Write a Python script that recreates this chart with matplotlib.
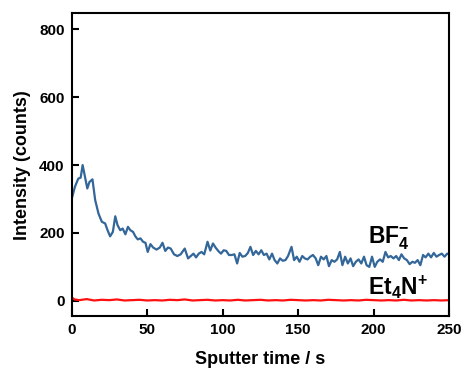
import matplotlib
matplotlib.use("Agg")
from matplotlib import pyplot as plt

plt.rcParams['font.family'] = ['Liberation Sans', 'DejaVu Sans']
plt.rcParams['font.weight'] = 'bold'
plt.rcParams['mathtext.fontset'] = 'custom'
plt.rcParams['mathtext.rm'] = 'Liberation Sans:bold'
plt.rcParams['mathtext.bf'] = 'Liberation Sans:bold'
plt.rcParams['mathtext.it'] = 'Liberation Sans:bold'
plt.rcParams['mathtext.default'] = 'bf'

# BF4- signal
bf4_time = [0.4, 2.2, 4.4, 6.0, 7.3, 8.9, 10.4, 11.8, 13.8, 15.6, 17.8, 20.0, 22.2, 23.8,
            25.5, 27.3, 28.9, 30.4, 32.2, 33.8, 35.6, 37.3, 38.9, 40.7, 42.2, 43.8, 45.6,
            47.3, 48.9, 50.4, 52.2, 54.0, 56.2, 58.4, 60.2, 62.0, 63.8, 65.6, 67.8, 70.0,
            72.2, 74.9, 77.1, 78.9, 80.7, 82.4, 84.2, 86.0, 87.8, 90.0, 91.8, 93.6, 95.3,
            97.1, 98.9, 100.7, 102.4, 104.2, 106.0, 107.8, 109.6, 111.3, 113.1, 114.9,
            116.7, 118.4, 120.2, 122.0, 123.8, 125.6, 127.3, 129.1, 130.9, 132.7, 134.4,
            136.2, 138.0, 139.8, 141.6, 143.3, 145.6, 147.3, 149.1, 150.9, 152.7, 154.4,
            156.2, 158.0, 159.8, 161.6, 163.3, 165.1, 166.9, 168.7, 170.4, 172.2, 174.0,
            175.8, 177.6, 179.3, 181.1, 182.9, 184.7, 186.4, 188.2, 190.0, 191.8, 193.6,
            195.3, 197.1, 198.9, 200.7, 202.4, 204.2, 206.0, 207.8, 209.6, 211.3, 213.1,
            214.9, 216.7, 218.4, 220.2, 222.0, 223.8, 225.6, 227.3, 229.1, 230.9, 232.7,
            234.4, 236.2, 238.0, 239.8, 241.6, 243.3, 245.1, 246.9, 248.7, 250.0]
bf4_counts = [306, 336, 360, 363, 400, 365, 331, 350, 358, 297, 257, 233, 228, 208,
              190, 203, 249, 223, 208, 213, 196, 218, 208, 203, 190, 181, 184,
              174, 171, 144, 167, 157, 151, 157, 171, 147, 157, 154, 137, 132,
              137, 154, 125, 132, 139, 128, 139, 144, 137, 174, 148, 169, 157,
              147, 139, 149, 147, 135, 135, 137, 110, 141, 130, 132,
              141, 159, 135, 147, 137, 149, 135, 139, 122, 139, 120,
              110, 125, 118, 120, 132, 159, 120, 130, 115, 132, 125,
              122, 130, 135, 125, 105, 130, 122, 132, 102, 120, 115,
              122, 144, 105, 130, 110, 125, 102, 115, 122, 110, 130,
              105, 100, 130, 100, 115, 122, 115, 144, 128, 132, 125,
              132, 120, 137, 125, 120, 108, 115, 112, 120, 105, 135,
              128, 139, 128, 141, 130, 135, 139, 130, 139, 137]

# Et4N+ signal
et4n_time = [0, 2, 5, 10, 15, 20, 25, 30, 35, 40, 45, 50, 55, 60, 65, 70, 75, 80, 85,
             90, 95, 100, 105, 110, 115, 120, 125, 130, 135, 140, 145, 150, 155, 160,
             165, 170, 175, 180, 185, 190, 195, 200, 205, 210, 215, 220, 225, 230, 235,
             240, 245, 250]
et4n_counts = [10, 4, 2, 5, 1, 3, 2, 4, 1, 2, 3, 1, 2, 1, 3, 2, 4, 1, 2,
               3, 1, 2, 1, 3, 1, 2, 3, 1, 2, 1, 3, 2, 1, 2,
               1, 3, 2, 1, 2, 1, 3, 2, 1, 2, 1, 3, 1, 2, 1,
               2, 1, 2]

x_ticks = [0, 50, 100, 150, 200, 250]
y_ticks = [0, 200, 400, 600, 800]

fig = plt.figure(figsize=(4.65, 3.71), dpi=100)
ax = fig.add_axes([0.154, 0.148, 0.812, 0.816])

ax.plot(bf4_time, bf4_counts, color="#336699", lw=1.6)
ax.plot(et4n_time, et4n_counts, color="#ff1010", lw=1.6)

ax.set_xlim(0, 250)
ax.set_ylim(-45, 847)
ax.set_xticks(x_ticks)
ax.set_yticks(y_ticks)
ax.tick_params(direction="in", length=5, width=1.5, labelsize=11, pad=5)
for lab in ax.get_xticklabels() + ax.get_yticklabels():
    lab.set_fontweight("bold")
for sp in ax.spines.values():
    sp.set_linewidth(1.5)

ax.set_xlabel("Sputter time / s", fontsize=13, fontweight="bold", labelpad=10)
ax.set_ylabel("Intensity (counts)", fontsize=13, fontweight="bold", labelpad=6)

ax.text(196, 170, r"$\mathbf{BF}_{\mathbf{4}}^{\mathbf{-}}$", fontsize=16.5, va="baseline")
ax.text(196, 18, r"$\mathbf{Et}_{\mathbf{4}}\mathbf{N}^{\mathbf{+}}$", fontsize=16.5, va="baseline")

fig.savefig("out.png", dpi=100)
